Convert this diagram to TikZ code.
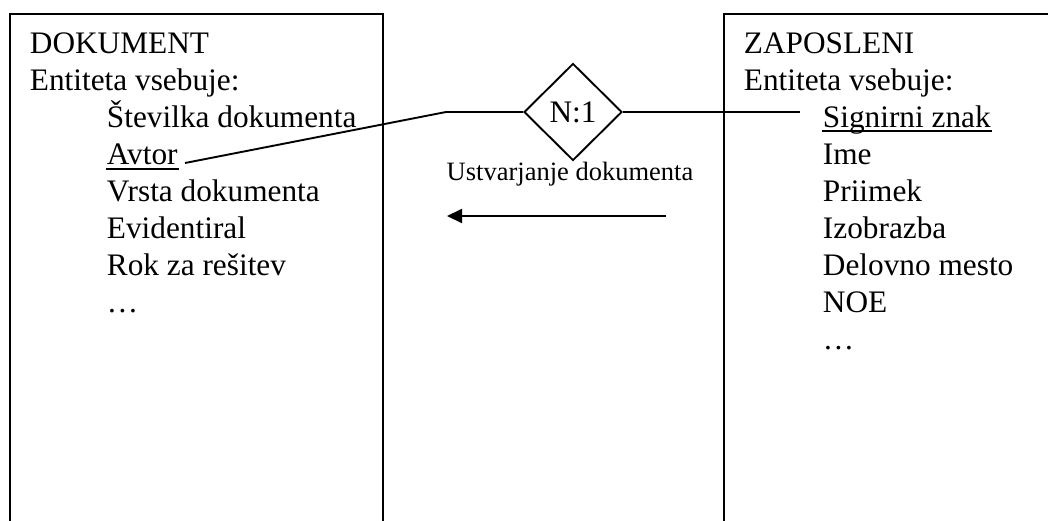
\documentclass[tikz,border=0pt]{standalone}
\usepackage{fontspec}
\setmainfont{Liberation Serif}
\usetikzlibrary{shapes.geometric,arrows.meta}
\begin{document}
\begin{tikzpicture}[x=1pt,y=-1pt,
  line width=1.9pt,
  entity/.style={draw,rectangle,inner sep=0pt,anchor=north west},
  attr/.style={inner sep=0pt,anchor=base west,font=\fontsize{31.3}{36}\selectfont},
  rel/.style={draw,diamond,inner sep=0pt,minimum width=98pt,minimum height=97pt,
    font=\fontsize{31.3}{36}\selectfont},
  relname/.style={inner sep=0pt,anchor=base,font=\fontsize{26.5}{30}\selectfont},
  ul/.style={line width=1.6pt}]
\useasboundingbox (0,0) rectangle (1048,520);
\clip (0,0) rectangle (1048,520);

% entity boxes (they run past the lower and right edges)
\node[entity,minimum width=373pt,minimum height=540pt] (docbox) at (9,13) {};
\node[entity,minimum width=340pt,minimum height=540pt] (empbox) at (723,13) {};

% DOKUMENT
\node[attr] (dHead) at (29,53) {DOKUMENT};
\node[attr] (dSub)  at (29,90) {Entiteta vsebuje:};
\node[attr] (dA1) at (106,127) {Številka dokumenta};
\node[attr] (dA2) at (106,164) {Avtor};
\node[attr] (dA3) at (106,201) {Vrsta dokumenta};
\node[attr] (dA4) at (106,238) {Evidentiral};
\node[attr] (dA5) at (106,275) {Rok za rešitev};
\node[attr] (dA6) at (106,312) {…};
\draw[ul] ([yshift=-5pt]dA2.base west) -- ([yshift=-5pt]dA2.base east);

% ZAPOSLENI
\node[attr] (zHead) at (743,53) {ZAPOSLENI};
\node[attr] (zSub)  at (743,90) {Entiteta vsebuje:};
\node[attr] (zA1) at (822,127) {Signirni znak};
\node[attr] (zA2) at (822,164) {Ime};
\node[attr] (zA3) at (822,201) {Priimek};
\node[attr] (zA4) at (822,238) {Izobrazba};
\node[attr] (zA5) at (822,275) {Delovno mesto};
\node[attr] (zA6) at (822,312) {NOE};
\node[attr] (zA7) at (822,349) {…};
\draw[ul] ([yshift=-4pt]zA1.base west) -- ([yshift=-4pt]zA1.base east);

% relationship
\node[rel] (rel) at (573,112) {N:1};
\node[relname] (relName) at (570,180) {Ustvarjanje dokumenta};

\coordinate (bendL) at (446,112);
\coordinate (avtorEnd) at (185,163);
\coordinate (znakEnd) at (800,112);
\draw (rel.west) -- (bendL) -- (avtorEnd);
\draw (rel.east) -- (znakEnd);

% reading direction
\coordinate (dirFrom) at (666,216);
\coordinate (dirTo) at (447,216);
\draw[-{Triangle[length=15pt,width=14pt]}] (dirFrom) -- (dirTo);
\end{tikzpicture}
\end{document}
